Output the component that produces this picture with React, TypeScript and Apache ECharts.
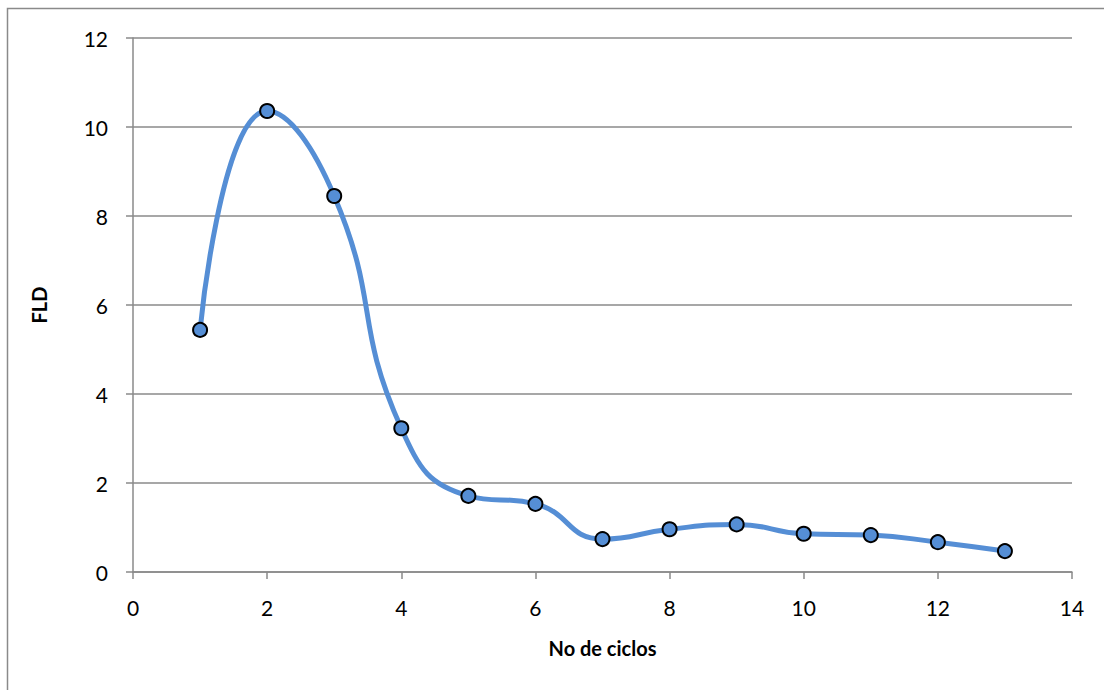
import React, { useEffect, useRef } from "react";
import * as echarts from "echarts";

const cycles = [1, 2, 3, 4, 5, 6, 7, 8, 9, 10, 11, 12, 13];
const fld = [5.44, 10.36, 8.45, 3.23, 1.71, 1.53, 0.74, 0.96, 1.07, 0.86, 0.83, 0.67, 0.47];
const xTitle = "No de ciclos";
const yTitle = "FLD";

export default function App() {
  const ref = useRef<HTMLDivElement>(null);
  useEffect(() => {
    const chart = echarts.init(ref.current!, null, { renderer: "svg" });
    const font = "Lato, 'Open Sans', sans-serif";
    chart.setOption({
      animation: false,
      graphic: [
        {
          type: "rect",
          shape: { x: 7.5, y: 8.5, width: 1200, height: 800 },
          style: { fill: "none", stroke: "#8a8a8a", lineWidth: 1.5 },
          silent: true,
        },
      ],
      grid: { left: 133, right: 32, top: 38, bottom: 118 },
      xAxis: {
        type: "value",
        min: 0,
        max: 14,
        interval: 2,
        name: xTitle,
        nameLocation: "middle",
        nameGap: 66,
        nameTextStyle: { fontFamily: font, fontSize: 20, fontWeight: "bold", color: "#000" },
        axisLine: { show: true, lineStyle: { color: "#8a8a8a", width: 1.5 } },
        axisTick: { show: true, inside: false, length: 7, lineStyle: { color: "#8a8a8a", width: 1.5 } },
        axisLabel: { fontFamily: font, fontSize: 21, color: "#000", margin: 25 },
        splitLine: { show: false },
      },
      yAxis: {
        type: "value",
        min: 0,
        max: 12,
        interval: 2,
        name: yTitle,
        nameLocation: "middle",
        nameGap: 84,
        nameRotate: 90,
        nameTextStyle: { fontFamily: font, fontSize: 20, fontWeight: "bold", color: "#000" },
        axisLine: { show: true, lineStyle: { color: "#8a8a8a", width: 1.5 } },
        axisTick: { show: true, inside: false, length: 7, lineStyle: { color: "#8a8a8a", width: 1.5 } },
        axisLabel: { fontFamily: font, fontSize: 21, color: "#000", margin: 25 },
        splitLine: { show: true, lineStyle: { color: "#8a8a8a", width: 1.5 } },
      },
      series: [
        {
          type: "line",
          data: cycles.map((c, i) => [c, fld[i]]),
          smooth: 0.5,
          symbol: "circle",
          symbolSize: 14,
          lineStyle: { color: "#558ed5", width: 5 },
          itemStyle: { color: "#558ed5", borderColor: "#000", borderWidth: 2 },
        },
      ],
    });
    return () => chart.dispose();
  }, []);
  return <div ref={ref} style={{ width: 1104, height: 690, position: "absolute", left: 0, top: 0 }} />;
}
